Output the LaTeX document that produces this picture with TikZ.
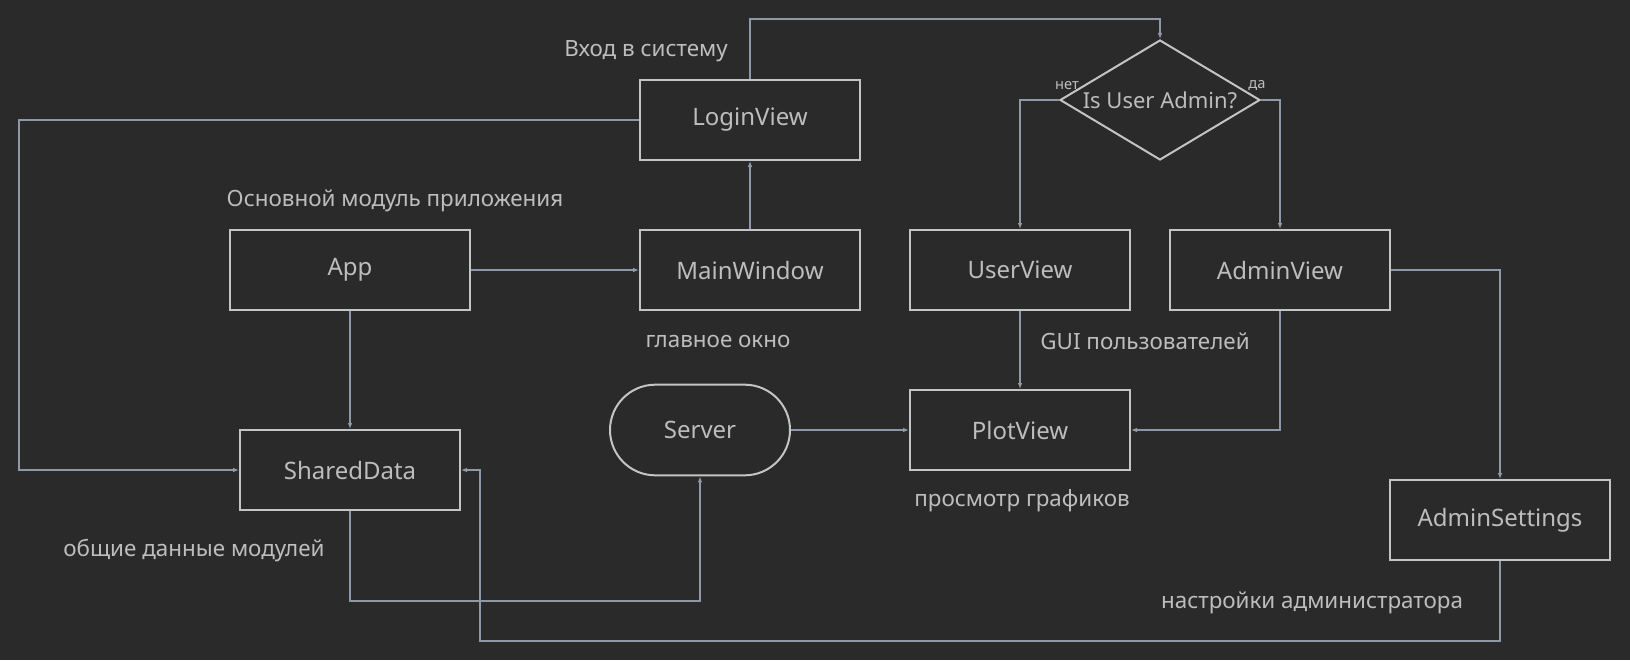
\documentclass[tikz,border=0pt]{standalone}
\usepackage{fontspec}
\setmainfont{Noto Sans}
\usepackage{xcolor}
\usetikzlibrary{shapes.geometric,arrows.meta}
\definecolor{bg}{HTML}{2A2A2A}
\definecolor{rand}{HTML}{C4C4C4}
\definecolor{schrift}{HTML}{BDBDBD}
\definecolor{pfeil}{HTML}{8D99A8}
\begin{document}
\begin{tikzpicture}[x=0.75pt,y=-0.75pt,
  box/.style={draw=rand,line width=1.5pt,text=schrift,font=\fontsize{18}{21}\selectfont,
    minimum width=165pt,minimum height=60pt,inner sep=0pt},
  term/.style={box,rounded corners=34pt,minimum width=135pt,minimum height=68pt},
  frage/.style={diamond,draw=rand,line width=1.5pt,text=schrift,font=\fontsize{16.5}{19}\selectfont,
    minimum width=150pt,minimum height=90pt,aspect=1.667,inner sep=0pt},
  notiz/.style={text=schrift,font=\fontsize{16.8}{20}\selectfont},
  klein/.style={text=schrift,font=\fontsize{11}{13}\selectfont},
  conn/.style={draw=pfeil,line width=1pt,-{Latex[length=4.5pt,width=3.5pt]}}]

  % Hintergrund
  \fill[bg] (0,0) rectangle (1630,660);
  \useasboundingbox (0,0) rectangle (1630,660);

  % Knoten
  \node[box] (login) at (750,120) {LoginView};
  \node[box] (main) at (750,270) {MainWindow};
  \node[box,minimum width=180pt] (app) at (350,270) {App};
  \node[box] (shared) at (350,470) {SharedData};
  \node[term] (server) at (700,430) {Server};
  \node[box] (plot) at (1020,430) {PlotView};
  \node[box] (user) at (1020,270) {UserView};
  \node[box] (admin) at (1280,270) {AdminView};
  \node[box] (settings) at (1500,520) {AdminSettings};
  \node[frage] (dia) at (1160,100) {Is User Admin?};

  % Beschriftungen
  \node[notiz] (tLogin) at (646,51) {Вход в систему};
  \node[notiz] (tApp) at (395,201) {Основной модуль приложения};
  \node[notiz] (tMain) at (718,341) {главное окно};
  \node[notiz] (tGui) at (1145,341) {GUI пользователей};
  \node[notiz] (tPlot) at (1022,501) {просмотр графиков};
  \node[notiz] (tShared) at (194,551) {общие данные модулей};
  \node[notiz] (tSettings) at (1312,603) {настройки администратора};
  \node[klein] (tNein) at (1067,86) {нет};
  \node[klein] (tJa) at (1257,86) {да};

  % Verbindungen
  \draw[conn] (login.north) -- ++(0,-60) -| (dia.north);
  \draw[conn] (dia.west) -| (user.north);
  \draw[conn] (dia.east) -| (admin.north);
  \draw[conn] (login.west) -- ++(-620,0) |- (shared.west);
  \draw[conn] (app.south) -- (shared.north);
  \draw[conn] (app.east) -- (main.west);
  \draw[conn] (main.north) -- (login.south);
  \draw[conn] (shared.south) -- ++(0,90) -| (server.south);
  \draw[conn] (server.east) -- (plot.west);
  \draw[conn] (user.south) -- (plot.north);
  \draw[conn] (admin.south) |- (plot.east);
  \draw[conn] (admin.east) -| (settings.north);
  \draw[conn] (settings.south) -- ++(0,80) -- ++(-1020,0) |- (shared.east);

\end{tikzpicture}
\end{document}
